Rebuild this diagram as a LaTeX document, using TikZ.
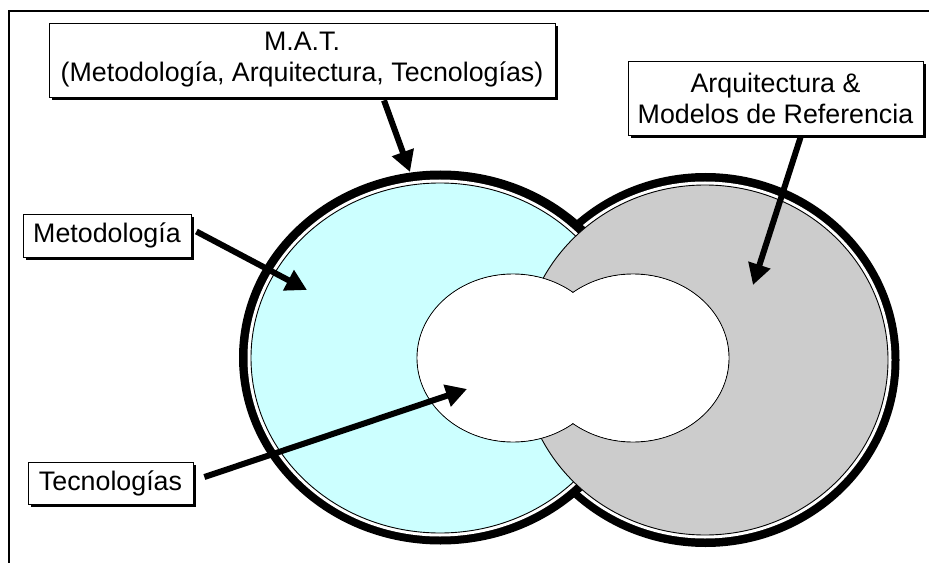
\documentclass[tikz,border=0pt]{standalone}
\usepackage{fontspec}
\setmainfont{Liberation Sans}
\usetikzlibrary{arrows.meta,shadows,calc}
\definecolor{methcyan}{HTML}{CCFFFF}
\definecolor{archgray}{HTML}{CCCCCC}
\begin{document}
\begin{tikzpicture}[x=1bp,y=-1bp,
  labelbox/.style={draw=black, line width=0.8bp, fill=white, inner sep=0pt, align=center,
    font=\fontsize{26.8bp}{31bp}\selectfont,
    drop shadow={shadow xshift=3bp, shadow yshift=-3bp, fill=black, opacity=1}},
  pointer/.style={line width=6bp, -{Triangle[length=21bp,width=22bp]}},
  ring/.style={fill=black},
  gap/.style={fill=white},
  area/.style={draw=black, line width=0.9bp}]
\useasboundingbox (0,0) rectangle (929,563);

% page frame (only top and left edges visible)
\draw[line width=2bp] (9,563) -- (9,11) -- (929,11);

% right domain: thick ring and white gap
\fill[ring] (705.5,360) ellipse [x radius=194, y radius=187];
\fill[gap] (705,360) ellipse [x radius=186.5, y radius=178.5];
% left domain: thick ring, white gap, cyan area
\fill[ring] (440.5,357.5) ellipse [x radius=201.5, y radius=187];
\fill[gap] (440,358) ellipse [x radius=192.5, y radius=178.5];
\filldraw[area, fill=methcyan] (440,358) ellipse [x radius=189, y radius=175];
% right domain area on top
\filldraw[area, fill=archgray] (705,360) ellipse [x radius=183, y radius=175];

% shared core: union of two ellipses, outer outline only
\filldraw[area, fill=white] (513,358) ellipse [x radius=96, y radius=84];
\filldraw[area, fill=white] (633,358) ellipse [x radius=96, y radius=84];
\fill[white] (513,358) ellipse [x radius=95.3, y radius=83.3];
\fill[white] (633,358) ellipse [x radius=95.3, y radius=83.3];

% labels
\node[labelbox, minimum width=506bp, minimum height=74bp] (mat) at (302,60)
  {M.A.T.\\(Metodología, Arquitectura, Tecnologías)};
\node[labelbox, minimum width=168bp, minimum height=43bp] (met) at (107,235.5)
  {Metodología};
\node[labelbox, minimum width=165bp, minimum height=42bp] (tec) at (110.5,483)
  {Tecnologías};
\node[labelbox, minimum width=295bp, minimum height=74bp] (arq) at (775.5,98)
  {Arquitectura \&\\Modelos de Referencia};

% arrow ends
\coordinate (matS) at ($(mat.south)+(82,3)$);
\coordinate (metS) at ($(met.east)+(5,-4)$);
\coordinate (arqS) at ($(arq.south)+(25,2)$);
\coordinate (tecS) at ($(tec.east)+(11,-6)$);
\coordinate (matT) at (410,172);
\coordinate (metT) at (307,290);
\coordinate (arqT) at (753,285);
\coordinate (tecT) at (467,389);

\draw[pointer] (matS) -- (matT);
\draw[pointer] (metS) -- (metT);
\draw[pointer] (arqS) -- (arqT);
\draw[pointer] (tecS) -- (tecT);
\end{tikzpicture}
\end{document}
